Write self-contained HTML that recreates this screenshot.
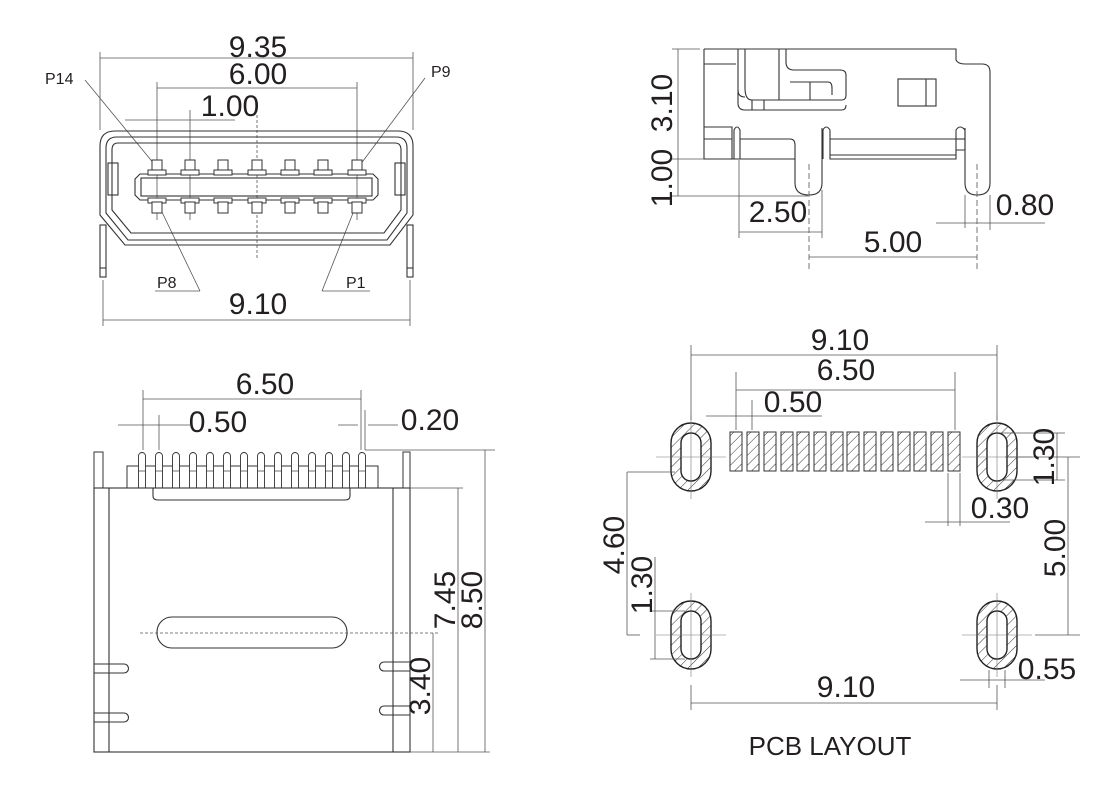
<!DOCTYPE html>
<html><head><meta charset="utf-8"><style>
html,body{margin:0;padding:0;background:#fff;}
svg{display:block;}
text{font-family:"Liberation Sans",Arial,sans-serif;fill:#231f20;}
</style></head><body>
<svg width="1120" height="790" viewBox="0 0 1120 790" xmlns="http://www.w3.org/2000/svg">
<defs>
<pattern id="h" patternUnits="userSpaceOnUse" width="7" height="7" patternTransform="rotate(45)">
<rect width="7" height="7" fill="#fff"/><line x1="0" y1="0" x2="0" y2="7" stroke="#333" stroke-width="1"/>
</pattern>
<g id="pinT"><rect x="-5" y="0" width="10" height="12" fill="#fff" stroke="#333"/><rect x="-9" y="10" width="18" height="5" fill="#fff" stroke="#333"/></g>
<g id="pinB"><rect x="-9" y="0" width="18" height="5" fill="#fff" stroke="#333"/><rect x="-5" y="4" width="10" height="11" fill="#fff" stroke="#333"/></g>
<g id="bp"><path d="M-3.5,488 V456 a3.5,3.5 0 0 1 7,0 V488" fill="#fff" stroke="#333" stroke-width="0.9"/><line x1="-3.5" y1="471" x2="3.5" y2="471" stroke="#333" stroke-width="0.7"/></g>
<g id="sp"><rect x="0" y="432" width="12" height="39" fill="url(#h)" stroke="#333"/></g>
<g id="ov"><rect x="-20" y="-34" width="40" height="68" rx="20" fill="url(#h)" stroke="#222" stroke-width="1.4"/><rect x="-10" y="-24" width="20" height="48" rx="10" fill="#fff" stroke="#222" stroke-width="1.4"/><line x1="-35" y1="0" x2="35" y2="0" stroke="#777" stroke-width="0.6"/><line x1="0" y1="-42" x2="0" y2="42" stroke="#777" stroke-width="0.6"/></g>
</defs>
<g stroke="#555" stroke-width="0.8" fill="none">
<line x1="100" y1="58" x2="413" y2="58"/><line x1="100" y1="52" x2="100" y2="130"/><line x1="413" y1="52" x2="413" y2="130"/>
<line x1="157" y1="88" x2="357" y2="88"/><line x1="157" y1="82" x2="157" y2="220"/><line x1="357" y1="82" x2="357" y2="220"/>
<line x1="125" y1="120" x2="235" y2="120"/><line x1="190" y1="110" x2="190" y2="220"/>
<line x1="257" y1="115" x2="257" y2="260" stroke-dasharray="3,2"/>
<line x1="103" y1="320" x2="410" y2="320"/><line x1="103" y1="280" x2="103" y2="326"/><line x1="410" y1="280" x2="410" y2="326"/>
<line x1="85" y1="80" x2="155" y2="165"/><line x1="425" y1="78" x2="360" y2="165"/>
<line x1="155" y1="291" x2="200" y2="291"/><line x1="200" y1="291" x2="160" y2="208"/>
<line x1="322" y1="291" x2="370" y2="291"/><line x1="322" y1="291" x2="355" y2="208"/>
</g>
<g stroke="#333" stroke-width="1.1" fill="none">
<path d="M115,131 H398 Q413,131 413,146 V215 L390,245 H125 L100,215 V146 Q100,131 115,131 Z"/>
<path d="M117,137 H396 Q407,137 407,148 V213 L387,240 H128 L106,213 V148 Q106,137 117,137 Z"/>
<path d="M118,143 H395 Q401,143 401,150 V210 L384,233 H131 L112,210 V150 Q112,143 118,143 Z"/>
<rect x="108" y="163" width="10" height="32"/><rect x="395" y="163" width="10" height="32"/>
<path d="M140,174 H373 L378,179 V195 L373,200 H140 L135,195 V179 Z"/>
<rect x="141" y="178" width="231" height="18"/>
<rect x="100" y="225" width="6" height="52"/><rect x="407" y="225" width="6" height="52"/>
<line x1="100" y1="268" x2="106" y2="268"/><line x1="407" y1="268" x2="413" y2="268"/>
</g>
<use href="#pinT" x="157" y="160"/><use href="#pinT" x="190" y="160"/><use href="#pinT" x="223" y="160"/><use href="#pinT" x="257" y="160"/><use href="#pinT" x="290" y="160"/><use href="#pinT" x="323" y="160"/><use href="#pinT" x="357" y="160"/>
<use href="#pinB" x="157" y="198"/><use href="#pinB" x="190" y="198"/><use href="#pinB" x="223" y="198"/><use href="#pinB" x="257" y="198"/><use href="#pinB" x="290" y="198"/><use href="#pinB" x="323" y="198"/><use href="#pinB" x="357" y="198"/>
<text x="258" y="57" font-size="30" text-anchor="middle">9.35</text>
<text x="258" y="84" font-size="30" text-anchor="middle">6.00</text>
<text x="230" y="116" font-size="30" text-anchor="middle">1.00</text>
<text x="45" y="84" font-size="16">P14</text>
<text x="431" y="77" font-size="16">P9</text>
<text x="157" y="288" font-size="16">P8</text>
<text x="346" y="288" font-size="16">P1</text>
<text x="258" y="314" font-size="30" text-anchor="middle">9.10</text>

<g stroke="#333" stroke-width="1.1" fill="none">
<path d="M704,49 H956 V60 Q958,64 965,64 H982 Q990,64 990,72 V183 Q990,195 977,195 Q965,195 965,183 V128"/>
<path d="M704,49 V159 H795 V183 Q795,195 809,195 Q822,195 822,183 V128"/>
<line x1="704" y1="64" x2="736" y2="64"/>
<path d="M738,49 V90 Q738,97 745,97"/><path d="M745,49 V88 Q745,100 752,100 H842 Q846,100 846,95 V75 Q846,70 840,70 H794 Q786,70 786,62 V49"/>
<line x1="779" y1="49" x2="779" y2="100"/><line x1="752" y1="100" x2="752" y2="110"/><line x1="764" y1="100" x2="764" y2="110"/>
<path d="M738,90 V103 Q738,110 745,110 H842 Q846,110 846,105"/>
<path d="M790,82 H828 Q832,82 832,88 V95"/><line x1="810" y1="82" x2="810" y2="100"/>
<rect x="898" y="79" width="38" height="27"/><line x1="926" y1="79" x2="926" y2="106"/>
<path d="M704,127 H732 V159"/><line x1="704" y1="139" x2="732" y2="139"/>
<path d="M734,159 V130 Q737,124 740,130 V139 H790 Q795,139 795,145 V159"/>
<line x1="740" y1="139" x2="740" y2="159"/>
<path d="M823,159 V130 Q826,124 830,130 V159 H956 V130 Q960,124 965,130 V150 H956"/>
<line x1="830" y1="139" x2="956" y2="139"/><line x1="830" y1="155" x2="956" y2="155"/><line x1="956" y1="139" x2="965" y2="139"/>
</g>
<g stroke="#555" stroke-width="0.8" fill="none">
<line x1="678" y1="49" x2="678" y2="196"/><line x1="672" y1="49" x2="700" y2="49"/><line x1="672" y1="159" x2="704" y2="159"/><line x1="672" y1="196" x2="808" y2="196"/>
<line x1="739" y1="160" x2="739" y2="238"/><line x1="822" y1="190" x2="822" y2="238"/><line x1="739" y1="232" x2="822" y2="232"/>
<line x1="809" y1="164" x2="809" y2="270" stroke-dasharray="6,3"/><line x1="977" y1="164" x2="977" y2="270" stroke-dasharray="6,3"/>
<line x1="809" y1="257" x2="977" y2="257"/>
<line x1="936" y1="223" x2="1045" y2="223"/><line x1="965" y1="195" x2="965" y2="228"/><line x1="990" y1="195" x2="990" y2="230"/>
</g>
<text transform="translate(678,103) rotate(-90)" font-size="30" text-anchor="middle" y="-6">3.10</text>
<text transform="translate(678,178) rotate(-90)" font-size="30" text-anchor="middle" y="-6">1.00</text>
<text x="778" y="222" font-size="30" text-anchor="middle">2.50</text>
<text x="893" y="252" font-size="30" text-anchor="middle">5.00</text>
<text x="1025" y="215" font-size="30" text-anchor="middle">0.80</text>

<g stroke="#333" stroke-width="1" fill="#fff">
<rect x="127" y="466" width="251" height="22"/>
<rect x="94" y="452" width="9" height="36"/><rect x="403" y="452" width="7" height="36"/>
</g>
<use href="#bp" x="142"/><use href="#bp" x="159"/><use href="#bp" x="176"/><use href="#bp" x="193"/><use href="#bp" x="210"/><use href="#bp" x="227"/><use href="#bp" x="244"/><use href="#bp" x="261"/><use href="#bp" x="278"/><use href="#bp" x="295"/><use href="#bp" x="312"/><use href="#bp" x="329"/><use href="#bp" x="346"/><use href="#bp" x="362"/>
<g stroke="#333" stroke-width="1.1" fill="none">
<rect x="94" y="488" width="316" height="264"/>
<line x1="109" y1="488" x2="109" y2="752"/><line x1="393" y1="488" x2="393" y2="752"/>
<path d="M153,488 V496 Q153,500 158,500 H345 Q350,500 350,496 V488"/>
<rect x="157" y="617" width="190" height="31" rx="15"/>
<path d="M94,664 H124 a4.5,4.5 0 0 1 0,9 H94"/><path d="M94,713 H124 a4.5,4.5 0 0 1 0,9 H94"/>
<path d="M410,662 H384 a4.5,4.5 0 0 0 0,9 H410"/><path d="M410,706 H384 a4.5,4.5 0 0 0 0,9 H410"/>
</g>
<g stroke="#555" stroke-width="0.8" fill="none">
<line x1="143" y1="399" x2="361" y2="399"/><line x1="143" y1="390" x2="143" y2="450"/><line x1="361" y1="390" x2="361" y2="450"/><line x1="365" y1="410" x2="365" y2="450"/>
<line x1="118" y1="425" x2="190" y2="425"/><line x1="159" y1="415" x2="159" y2="450"/>
<line x1="338" y1="425" x2="358" y2="425"/><line x1="368" y1="425" x2="398" y2="425"/>
<line x1="365" y1="450" x2="495" y2="450"/><line x1="410" y1="488" x2="463" y2="488"/>
<line x1="485" y1="450" x2="485" y2="752"/><line x1="458" y1="488" x2="458" y2="752"/><line x1="433" y1="633" x2="433" y2="752"/>
<line x1="140" y1="633" x2="440" y2="633" stroke-dasharray="3,2"/>
<line x1="410" y1="752" x2="490" y2="752"/>
</g>
<text x="265" y="394" font-size="30" text-anchor="middle">6.50</text>
<text x="218" y="432" font-size="30" text-anchor="middle">0.50</text>
<text x="430" y="430" font-size="30" text-anchor="middle">0.20</text>
<text transform="translate(458,600) rotate(-90)" font-size="30" text-anchor="middle" y="-3">7.45</text>
<text transform="translate(485,600) rotate(-90)" font-size="30" text-anchor="middle" y="-3">8.50</text>
<text transform="translate(433,686) rotate(-90)" font-size="30" text-anchor="middle" y="-3">3.40</text>

<use href="#ov" x="691" y="457"/><use href="#ov" x="997" y="457"/><use href="#ov" x="691" y="635"/><use href="#ov" x="997" y="635"/>
<use href="#sp" x="730"/><use href="#sp" x="747"/><use href="#sp" x="764"/><use href="#sp" x="781"/><use href="#sp" x="797"/><use href="#sp" x="814"/><use href="#sp" x="831"/><use href="#sp" x="847"/><use href="#sp" x="864"/><use href="#sp" x="881"/><use href="#sp" x="898"/><use href="#sp" x="914"/><use href="#sp" x="931"/><use href="#sp" x="948"/>
<g stroke="#555" stroke-width="0.8" fill="none">
<line x1="691" y1="355" x2="997" y2="355"/><line x1="691" y1="345" x2="691" y2="420"/><line x1="997" y1="345" x2="997" y2="420"/>
<line x1="736" y1="390" x2="955" y2="390"/><line x1="736" y1="372" x2="736" y2="430"/><line x1="955" y1="372" x2="955" y2="430"/>
<line x1="706" y1="416" x2="822" y2="416"/><line x1="752" y1="400" x2="752" y2="430"/>
<line x1="1000" y1="433" x2="1065" y2="433"/><line x1="1000" y1="480" x2="1065" y2="480"/><line x1="1057" y1="433" x2="1057" y2="480"/>
<line x1="1005" y1="457" x2="1080" y2="457"/><line x1="1035" y1="635" x2="1080" y2="635"/><line x1="1068" y1="457" x2="1068" y2="635"/>
<line x1="948" y1="473" x2="948" y2="526"/><line x1="960" y1="473" x2="960" y2="526"/><line x1="925" y1="522" x2="1010" y2="522"/>
<line x1="627" y1="472" x2="627" y2="635"/><line x1="627" y1="472" x2="675" y2="472"/><line x1="627" y1="635" x2="640" y2="635"/>
<line x1="655" y1="557" x2="655" y2="659"/><line x1="650" y1="611" x2="685" y2="611"/><line x1="650" y1="659" x2="685" y2="659"/>
<line x1="691" y1="685" x2="691" y2="710"/><line x1="997" y1="685" x2="997" y2="710"/><line x1="691" y1="703" x2="997" y2="703"/>
<line x1="960" y1="680" x2="1045" y2="680"/><line x1="989" y1="670" x2="989" y2="688"/><line x1="1005" y1="670" x2="1005" y2="688"/>
</g>
<text x="840" y="350" font-size="30" text-anchor="middle">9.10</text>
<text x="846" y="380" font-size="30" text-anchor="middle">6.50</text>
<text x="793" y="412" font-size="30" text-anchor="middle">0.50</text>
<text transform="translate(1057,457) rotate(-90)" font-size="30" text-anchor="middle" y="-3">1.30</text>
<text x="1000" y="518" font-size="30" text-anchor="middle">0.30</text>
<text transform="translate(1068,548) rotate(-90)" font-size="30" text-anchor="middle" y="-3">5.00</text>
<text transform="translate(627,545) rotate(-90)" font-size="30" text-anchor="middle" y="-3">4.60</text>
<text transform="translate(655,585) rotate(-90)" font-size="30" text-anchor="middle" y="-3">1.30</text>
<text x="846" y="697" font-size="30" text-anchor="middle">9.10</text>
<text x="1047" y="679" font-size="30" text-anchor="middle">0.55</text>
<text x="830" y="755" font-size="26" text-anchor="middle">PCB LAYOUT</text>
</svg>
</body></html>
